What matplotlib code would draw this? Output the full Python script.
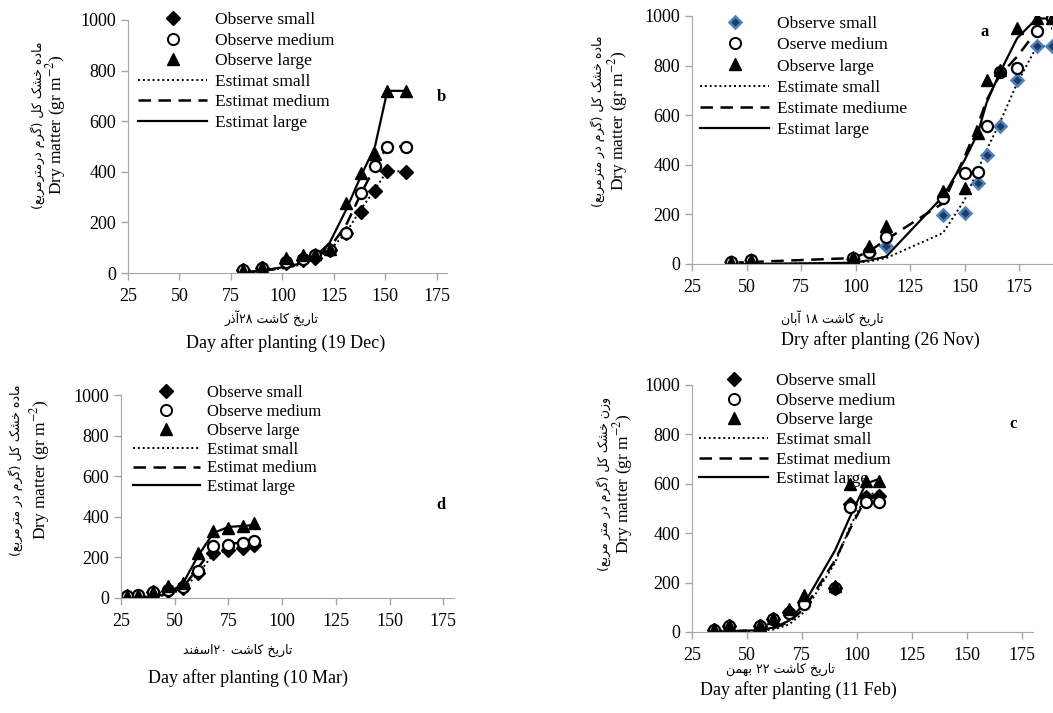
import unicodedata
import numpy as np
import matplotlib
matplotlib.use('Agg')
import matplotlib.pyplot as plt
from matplotlib.lines import Line2D

plt.rcParams['font.family'] = ['Liberation Serif', 'DejaVu Sans']
plt.rcParams['mathtext.fontset'] = 'stix'

W, H = 1053, 713

# ---- data ----
# b : 19 Dec
days_b = [81, 90, 102, 110, 116, 123, 131, 138, 145, 151, 160]
obs_small_b = [10, 20, 40, 50, 60, 90, 158, 243, 326, 405, 400]
obs_medium_b = [10, 20, 45, 55, 70, 90, 160, 316, 423, 500, 500]
obs_large_b = [12, 25, 60, 70, 75, 95, 276, 395, 470, 720, 720]
est_small_b = [2, 8, 20, 35, 55, 90, 160, 250, 330, 405, 400]
est_medium_b = [2, 8, 22, 38, 60, 100, 190, 310, 420, 500, 500]
est_large_b = [2, 10, 25, 40, 65, 120, 250, 380, 500, 720, 720]

# a : 26 Nov
days_a = [43, 52, 99, 106, 114, 140, 150, 156, 160, 166, 174, 183, 190]
obs_small_a = [8, 15, 20, 44, 71, 199, 205, 326, 440, 557, 742, 879, 879]
obs_medium_a = [8, 15, 25, 50, 109, 266, 366, 370, 556, 776, 789, 940, 990]
obs_large_a = [10, 15, 30, 71, 152, 293, 306, 527, 742, 783, 950, 990, 990]
est_small_a = [0, 0, 5, 10, 24, 125, 259, 380, 460, 568, 729, 877, 880]
est_medium_a = [5, 8, 24, 50, 98, 245, 433, 560, 660, 760, 836, 940, 950]
est_large_a = [0, 0, 5, 15, 30, 272, 420, 527, 650, 770, 910, 990, 990]

# d : 10 Mar
days_d = [28, 33, 40, 47, 54, 61, 68, 75, 82, 87]
obs_small_d = [10, 12, 30, 35, 50, 123, 221, 235, 245, 262]
obs_medium_d = [10, 14, 30, 38, 55, 135, 254, 262, 271, 280]
obs_large_d = [12, 15, 30, 57, 74, 221, 328, 344, 353, 368]
est_small_d = [0, 2, 6, 15, 45, 120, 215, 235, 250, 260]
est_medium_d = [0, 2, 8, 18, 55, 150, 250, 265, 275, 285]
est_large_d = [0, 2, 8, 20, 75, 210, 320, 350, 355, 360]

# c : 11 Feb
days_c = [35, 42, 56, 62, 69, 76, 90, 97, 104, 110]
obs_small_c = [10, 25, 25, 54, 80, 120, 180, 520, 545, 550]
obs_medium_c = [10, 25, 25, 54, 75, 115, 180, 505, 527, 527]
obs_large_c = [12, 28, 28, 56, 95, 149, 185, 600, 610, 610]
est_small_c = [0, 2, 5, 10, 30, 80, 280, 430, 550, 570]
est_medium_c = [0, 3, 8, 15, 40, 95, 290, 420, 540, 560]
est_large_c = [0, 2, 8, 18, 45, 115, 330, 470, 600, 620]

labels_b = ['Observe small', 'Observe medium', 'Observe large',
            'Estimat small', 'Estimat medium', 'Estimat large']
labels_a = ['Observe small', 'Oserve medium', 'Observe large',
            'Estimate small', 'Estimate mediume', 'Estimat large']

fa_y_b = 'ماده خشک کل (گرم درمترمربع)'
fa_y_a = 'ماده خشک کل (گرم در مترمربع)'
fa_y_c = 'وزن خشک کل (گرم در متر مربع)'
fa_x_b = 'تاریخ کاشت ۲۸آذر'
fa_x_a = 'تاریخ کاشت ۱۸ آبان'
fa_x_d = 'تاریخ کاشت ۲۰اسفند'
fa_x_c = 'تاریخ کاشت ۲۲ بهمن'


# crude arabic shaping + visual reordering (no bidi lib available)
def forms(ch):
    try:
        name = unicodedata.name(ch)
    except ValueError:
        return None
    if not name.startswith('ARABIC LETTER'):
        return None
    f = {}
    for k in ('ISOLATED', 'FINAL', 'INITIAL', 'MEDIAL'):
        try:
            f[k] = unicodedata.lookup(name + ' ' + k + ' FORM')
        except KeyError:
            pass
    return f


def fa(s):
    out = []
    for i, ch in enumerate(s):
        f = forms(ch)
        if not f:
            out.append(ch)
            continue
        prev = forms(s[i - 1]) if i > 0 else None
        nxt = forms(s[i + 1]) if i < len(s) - 1 else None
        jp = bool(prev) and 'INITIAL' in prev
        jn = bool(nxt) and 'INITIAL' in f
        key = 'MEDIAL' if jp and jn else 'FINAL' if jp else 'INITIAL' if jn else 'ISOLATED'
        out.append(f.get(key, f.get('ISOLATED', ch)))
    r = ''.join(out)[::-1]
    # keep digit runs left-to-right, mirror brackets
    res, run = [], []
    for ch in r:
        if ch.isdigit():
            run.append(ch)
        else:
            res.extend(run[::-1]); run = []
            res.append({'(': ')', ')': '('}.get(ch, ch))
    res.extend(run[::-1])
    return ''.join(res)


fig = plt.figure(figsize=(W / 100, H / 100), dpi=100)


def px_axes(left, top, right, bottom):
    return fig.add_axes([left / W, 1 - bottom / H, (right - left) / W, (bottom - top) / H])


def ftext(x, y, s, **kw):
    fig.text(x / W, 1 - y / H, s, ha='center', va='center', **kw)


def panel(box, xlim, days, obs, est, labels, leg_xy, tag, tag_xy,
          ylab_x, ylab_y, fa_y, xlab_y, fa_x, en_x, fa_xc,
          small_style=None, legsize=12.5, legspace=0.25):
    ax = px_axes(*box)
    mk = dict(linestyle='none')
    s_style = small_style or dict(marker='D', ms=7, mfc='black', mec='black')
    ax.plot(days, est[0], color='black', lw=1.4, ls=(0, (1, 1.5)))
    ax.plot(days, est[1], color='black', lw=1.8, ls=(0, (5, 3)))
    ax.plot(days, est[2], color='black', lw=1.6, ls='-')
    ax.plot(days, obs[0], **mk, **s_style)
    ax.plot(days, obs[1], **mk, marker='o', ms=8, mfc='white', mec='black', mew=1.6)
    ax.plot(days, obs[2], **mk, marker='^', ms=8, mfc='black', mec='black')
    ax.set_xlim(*xlim)
    ax.set_ylim(0, 1000)
    ax.set_xticks([25, 50, 75, 100, 125, 150, 175])
    ax.set_yticks([0, 200, 400, 600, 800, 1000])
    for sp in ('top', 'right'):
        ax.spines[sp].set_visible(False)
    for sp in ('left', 'bottom'):
        ax.spines[sp].set_color('#a6a6a6')
    ax.tick_params(colors='#a6a6a6', labelcolor='black', labelsize=13, length=5, width=1)
    ax.tick_params(axis='x', pad=6)
    ax.patch.set_alpha(0)

    handles = [Line2D([], [], **mk, **s_style),
               Line2D([], [], **mk, marker='o', ms=8, mfc='white', mec='black', mew=1.4),
               Line2D([], [], **mk, marker='^', ms=8, mfc='black', mec='black'),
               Line2D([], [], color='black', lw=1.4, ls=(0, (1, 1.5))),
               Line2D([], [], color='black', lw=1.8, ls=(0, (5, 3))),
               Line2D([], [], color='black', lw=1.6)]
    ax.legend(handles, labels, loc='upper left',
              bbox_to_anchor=(leg_xy[0] / W, 1 - leg_xy[1] / H),
              bbox_transform=fig.transFigure, frameon=False,
              handlelength=4.0, handletextpad=0.45, labelspacing=legspace,
              borderpad=0, borderaxespad=0, prop={'size': legsize})

    ftext(tag_xy[0], tag_xy[1], tag, fontsize=12, fontweight='bold')
    ftext(ylab_x[0], ylab_y, fa(fa_y), rotation=90, fontsize=9, family='DejaVu Sans')
    ftext(ylab_x[1], ylab_y, 'Dry matter (gr m$^{-2}$)', rotation=90, fontsize=12.5)
    ftext(fa_xc, xlab_y[0], fa(fa_x), fontsize=9, family='DejaVu Sans')
    ftext(en_x[0], xlab_y[1], en_x[1], fontsize=13)
    return ax


panel((128, 20, 447, 273), (25, 180), days_b,
      (obs_small_b, obs_medium_b, obs_large_b),
      (est_small_b, est_medium_b, est_large_b), labels_b,
      (138, 12), 'b', (441, 97), (38, 56), 125, fa_y_b,
      (318, 343), fa_x_b, (286, 'Day after planting (19 Dec)'), 272,
      legspace=0.25)

panel((692, 16, 1052, 264), (25, 190), days_a,
      (obs_small_a, obs_medium_a, obs_large_a),
      (est_small_a, est_medium_a, est_large_a), labels_a,
      (700, 16), 'a', (985, 32), (598, 618), 121, fa_y_a,
      (318, 340), fa_x_a, (880, 'Dry after planting (26 Nov)'), 832,
      small_style=dict(marker='D', ms=6, mfc='#1f3b63', mec='#4f81bd', mew=1.8),
      legspace=0.29)

panel((121, 395, 454, 598), (25, 180), days_d,
      (obs_small_d, obs_medium_d, obs_large_d),
      (est_small_d, est_medium_d, est_large_d), labels_b,
      (133, 385), 'd', (441, 505), (16, 40), 470, fa_y_a,
      (650, 678), fa_x_d, (248, 'Day after planting (10 Mar)'), 238,
      legsize=12, legspace=0.17)

panel((692, 385, 1033, 632), (25, 180), days_c,
      (obs_small_c, obs_medium_c, obs_large_c),
      (est_small_c, est_medium_c, est_large_c), labels_b,
      (699, 373), 'c', (1013, 424), (604, 623), 484, fa_y_c,
      (669, 690), fa_x_c, (798, 'Day after planting (11 Feb)'), 780,
      legspace=0.2)

fig.savefig('out.png', dpi=100)
